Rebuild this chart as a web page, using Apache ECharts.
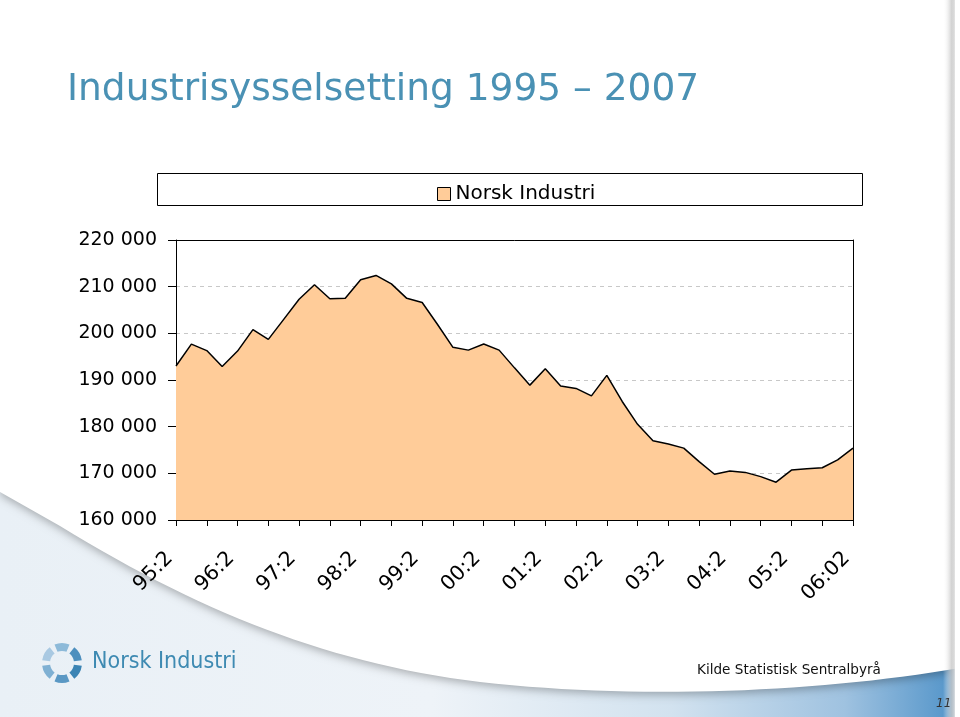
<!DOCTYPE html>
<html>
<head>
<meta charset="utf-8">
<script src="https://cdn.jsdelivr.net/npm/echarts@6/dist/echarts.min.js"></script>
<style>
html,body{margin:0;padding:0;background:#fff;}
#chart{width:960px;height:717px;}
</style>
</head>
<body>
<div id="chart"></div>
<script>
const categories = ["95:2","95:3","95:4","96:1","96:2","96:3","96:4","97:1","97:2","97:3","97:4","98:1","98:2","98:3","98:4","99:1","99:2","99:3","99:4","00:1","00:2","00:3","00:4","01:1","01:2","01:3","01:4","02:1","02:2","02:3","02:4","03:1","03:2","03:3","03:4","04:1","04:2","04:3","04:4","05:1","05:2","05:3","05:4","06:1","06:02"];
const norskIndustri = [193000,197700,196300,192900,196200,200800,198700,203000,207300,210400,207400,207500,211500,212400,210600,207500,206600,201900,197000,196400,197700,196400,192600,188900,192400,188700,188200,186600,191000,185400,180500,177000,176300,175400,172500,169800,170500,170200,169300,168100,170700,171000,171200,172900,175400];
const seriesName = "Norsk Industri";
const titleText = "Industrisysselsetting 1995 \u2013 2007";
const sourceText = "Kilde Statistisk Sentralbyrå";
const pageNumber = "11";
const logoText = "Norsk Industri";

const FONT = "DejaVu Sans";
const chart = echarts.init(document.getElementById('chart'), null, {renderer:'canvas'});

// decorative background swoosh outline
function bez(p0,p1,p2,p3,n){
  const out=[];
  for(let i=0;i<=n;i++){const t=i/n,u=1-t;
    out.push([u*u*u*p0[0]+3*u*u*t*p1[0]+3*u*t*t*p2[0]+t*t*t*p3[0],
              u*u*u*p0[1]+3*u*u*t*p1[1]+3*u*t*t*p2[1]+t*t*t*p3[1]]);}
  return out;
}
const swoosh = [[0,0],[960,0]]
  .concat(bez([960,668],[820,692],[640,700],[480,682],30))
  .concat(bez([480,682],[330,664],[200,612],[60,526],30))
  .concat([[0,492]]);

const logoBlades = [];
const bladeColors = ['#3b84b4','#5a98c4','#7fb0d3','#a9c9e2','#8dbad9','#4d8fbe'];
for (let k = 0; k < 6; k++) {
  const a0 = (k * 60 + 8) * Math.PI / 180;
  const a1 = (k * 60 + 52) * Math.PI / 180;
  logoBlades.push({
    type:'sector', z:2, silent:true,
    shape:{cx:62, cy:663, r:20, r0:12, startAngle:a0, endAngle:a1},
    style:{fill:bladeColors[k]}
  });
}

const option = {
  animation:false,
  textStyle:{fontFamily:FONT},
  graphic:[
    {type:'rect', z:-10, silent:true, shape:{x:0,y:0,width:960,height:717},
     style:{fill:new echarts.graphic.LinearGradient(0,0,1,0,[
       {offset:0,color:'#e9f0f6'},{offset:0.45,color:'#eef3f8'},
       {offset:0.7,color:'#d2e2ef'},{offset:0.88,color:'#9fc2e0'},{offset:1,color:'#4f92c8'}])}},
    {type:'polygon', z:-9, silent:true,
     shape:{points:swoosh},
     style:{fill:'#ffffff', shadowColor:'rgba(0,0,0,0.28)', shadowBlur:8, shadowOffsetY:3}},
    {type:'rect', z:-8, silent:true, shape:{x:943,y:0,width:12,height:717},
     style:{fill:new echarts.graphic.LinearGradient(0,0,1,0,[
       {offset:0,color:'rgba(255,255,255,0)'},{offset:0.7,color:'rgba(200,200,200,0.8)'},
       {offset:0.95,color:'rgba(215,215,215,0.9)'},{offset:1,color:'rgba(255,255,255,1)'}])}},
    {type:'rect', z:-8, silent:true, shape:{x:955,y:0,width:5,height:717}, style:{fill:'#ffffff'}},
    {type:'rect', z:1, silent:true, shape:{x:157.5,y:173.5,width:705,height:32},
     style:{fill:'#ffffff', stroke:'#000000', lineWidth:1}},
    {type:'text', z:2, silent:true, left:67, top:71,
     style:{text:titleText, fill:'#4a91b4', font:'37.5px "DejaVu Sans"'}},
    {type:'text', z:2, silent:true, left:697, top:663,
     style:{text:sourceText, fill:'#111111', font:'13.6px "DejaVu Sans"'}},
    {type:'text', z:2, silent:true, left:936, top:698,
     style:{text:pageNumber, fill:'#333333', font:'italic 12px "DejaVu Sans"'}},
    {type:'text', z:2, silent:true, left:92, top:651,
     style:{text:logoText, fill:'#3e8ab2', font:'23px "DejaVu Sans Condensed", "DejaVu Sans"'}}
  ].concat(logoBlades),
  legend:{
    show:true, left:432, top:179, icon:'rect', itemWidth:13, itemHeight:13, itemGap:10,
    itemStyle:{color:'#FFCC99', borderColor:'#000', borderWidth:1},
    textStyle:{fontSize:20, color:'#000', fontFamily:FONT},
    data:[seriesName], z:3
  },
  grid:{left:176, right:107, top:240, bottom:197, show:true, borderWidth:0, backgroundColor:'#fff'},
  xAxis:[{
    type:'category', data:categories, boundaryGap:false,
    axisLine:{show:true, lineStyle:{color:'#000', width:1}},
    axisTick:{show:true, interval:1, length:6, lineStyle:{color:'#000'}},
    axisLabel:{interval:3, rotate:45, fontSize:20.5, color:'#000', margin:29, fontFamily:FONT, padding:[0,9,0,0]},
    splitLine:{show:false}
  },{
    type:'category', data:categories, boundaryGap:false, position:'top',
    axisLine:{show:true, lineStyle:{color:'#000', width:1}},
    axisTick:{show:false}, axisLabel:{show:false}, splitLine:{show:false}
  }],
  yAxis:[{
    type:'value', min:160000, max:220000, interval:10000,
    axisLine:{show:true, lineStyle:{color:'#000', width:1}},
    axisTick:{show:true, length:8, lineStyle:{color:'#000'}},
    axisLabel:{fontSize:19, color:'#000', margin:19, fontFamily:FONT,
      formatter:function(v){return String(v).replace(/\B(?=(\d{3})+(?!\d))/g,' ');}},
    splitLine:{show:true, lineStyle:{color:'#c8c8c8', type:[4,4], width:1}}
  },{
    type:'value', min:160000, max:220000, interval:10000, position:'right',
    axisLine:{show:true, lineStyle:{color:'#000', width:1}},
    axisTick:{show:false}, axisLabel:{show:false}, splitLine:{show:false}
  }],
  series:[{
    name:seriesName, type:'line', data:norskIndustri, color:'#FFCC99',
    showSymbol:false, symbol:'none',
    lineStyle:{color:'#000', width:1.5},
    areaStyle:{color:'#FFCC99', opacity:1, origin:'start'},
    z:2
  }]
};
chart.setOption(option);
</script>
</body>
</html>
